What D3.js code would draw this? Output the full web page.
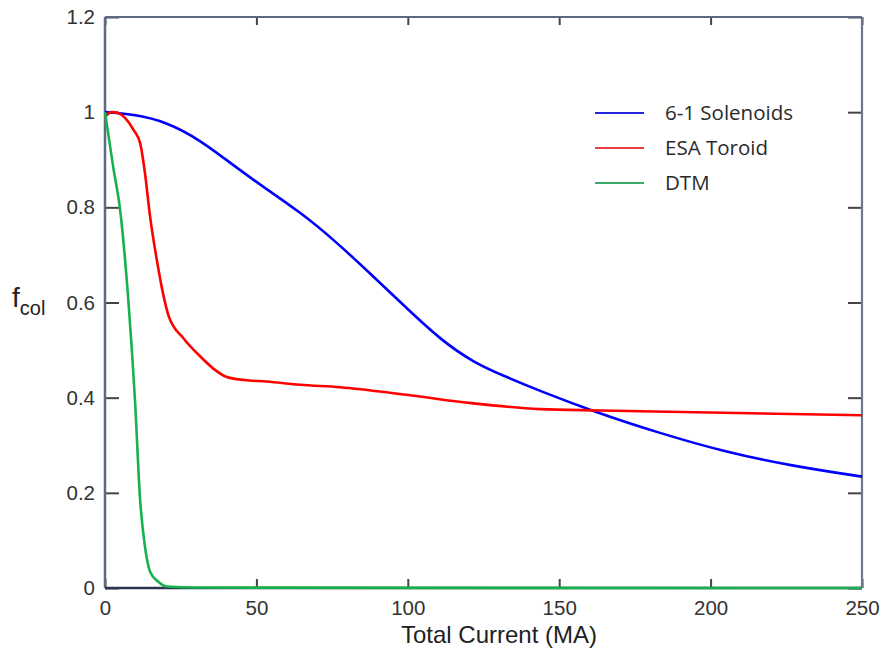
<!DOCTYPE html>
<html>
<head>
<meta charset="utf-8">
<script src="https://cdn.jsdelivr.net/npm/d3@7"></script>
<style>
  html, body { margin: 0; padding: 0; background: #fff; }
  svg { display: block; }
  .tick text { font-family: "Liberation Sans", Arial, sans-serif; font-size: 20.5px; fill: #333; }
</style>
</head>
<body>
<svg id="chart" width="888" height="664"></svg>
<script>
// values
const solenoidX = [0, 10, 20, 31.4, 42.4, 53.4, 64.4, 75.4, 88.6, 99.6, 110.6, 121.6, 132.7, 143.7, 161.3, 183.3, 205.3, 227.3, 250];
const solenoidY = [1.0, 0.995, 0.98, 0.942, 0.888, 0.838, 0.79, 0.733, 0.655, 0.588, 0.523, 0.474, 0.443, 0.414, 0.371, 0.325, 0.285, 0.256, 0.234];

const toroidX = [0, 2.2, 4.3, 9.4, 11.6, 13.2, 14.9, 17.1, 19.3, 21, 25.9, 31.4, 36, 40, 46, 53.4, 64.4, 77.6, 99.6, 121.6, 143.7, 163.5, 250];
const toroidY = [0.99, 1.0, 0.998, 0.963, 0.935, 0.872, 0.78, 0.69, 0.615, 0.572, 0.525, 0.487, 0.46, 0.444, 0.437, 0.434, 0.427, 0.422, 0.406, 0.388, 0.376, 0.373, 0.363];

const dtmX = [0, 2.7, 5, 7.7, 9.9, 11.6, 13.2, 14.9, 17.6, 20.4, 30, 250];
const dtmY = [1.0, 0.885, 0.794, 0.605, 0.395, 0.185, 0.087, 0.034, 0.013, 0.003, 0.001, 0];

const seriesNames = ["6-1 Solenoids", "ESA Toroid", "DTM"];
const lineColors = ["#0000ff", "#ff0000", "#17b24e"];
const legendColors = ["#2525e0", "#e84040", "#3aaa68"];

const xTicks = [0, 50, 100, 150, 200, 250];
const yTicks = [0, 0.2, 0.4, 0.6, 0.8, 1, 1.2];

const svg = d3.select("#chart");
const margin = { top: 17, right: 26, bottom: 76, left: 105 };
const W = 888 - margin.left - margin.right;
const H = 664 - margin.top - margin.bottom;

const g = svg.append("g").attr("transform", `translate(${margin.left},${margin.top})`);

const x = d3.scaleLinear().domain([0, 250]).range([0, W]);
const y = d3.scaleLinear().domain([0, 1.2]).range([H, 0]);

const fmt = d => String(+d.toFixed(1));

/* ---------- ticks ---------- */
function styleTicks(sel) {
  sel.select(".domain").remove();
  sel.selectAll(".tick line").attr("stroke", "#444").attr("stroke-width", 2);
}

g.append("g")
  .call(d3.axisLeft(y).tickValues(yTicks).tickFormat(fmt).tickSize(-14).tickPadding(10))
  .call(styleTicks);

g.append("g")
  .attr("transform", `translate(${W},0)`)
  .call(d3.axisRight(y).tickValues(yTicks).tickFormat("").tickSize(-14))
  .call(styleTicks);

g.append("g")
  .attr("transform", `translate(0,${H})`)
  .call(d3.axisBottom(x).tickValues(xTicks).tickFormat(fmt).tickSize(-9).tickPadding(12))
  .call(styleTicks);

g.append("g")
  .call(d3.axisTop(x).tickValues(xTicks).tickFormat("").tickSize(-8))
  .call(styleTicks);

/* ---------- frame ---------- */
g.append("line").attr("x1", 0).attr("x2", W).attr("y1", 0).attr("y2", 0)
  .attr("stroke", "#5d6985").attr("stroke-width", 2.2);
g.append("line").attr("x1", 0).attr("x2", 0).attr("y1", 0).attr("y2", H)
  .attr("stroke", "#5d6985").attr("stroke-width", 2.5);
g.append("line").attr("x1", W).attr("x2", W).attr("y1", 0).attr("y2", H)
  .attr("stroke", "#6d7890").attr("stroke-width", 2.2);
g.append("line").attr("x1", 0).attr("x2", W).attr("y1", H).attr("y2", H)
  .attr("stroke", "#2c3450").attr("stroke-width", 2.5);

/* ---------- lines ---------- */
const smoothLine = d3.line()
  .x(d => x(d[0]))
  .y(d => y(d[1]))
  .curve(d3.curveBasis);

const kneeLine = d3.line()
  .x(d => x(d[0]))
  .y(d => y(d[1]))
  .curve(d3.curveMonotoneX);

const series = [
  { pts: d3.zip(solenoidX, solenoidY), gen: smoothLine },
  { pts: d3.zip(toroidX, toroidY), gen: kneeLine },
  { pts: d3.zip(dtmX, dtmY), gen: kneeLine }
];

series.forEach((s, i) => {
  g.append("path")
    .datum(s.pts)
    .attr("fill", "none")
    .attr("stroke", lineColors[i])
    .attr("stroke-width", 2.6)
    .attr("stroke-linejoin", "round")
    .attr("d", s.gen);
});

/* ---------- legend ---------- */
const legend = svg.append("g").attr("transform", "translate(595,113)");
seriesNames.forEach((name, i) => {
  const row = legend.append("g").attr("transform", `translate(0,${i * 35})`);
  row.append("line").attr("x1", 0).attr("x2", 49).attr("y1", 0).attr("y2", 0)
    .attr("stroke", legendColors[i]).attr("stroke-width", 2);
  row.append("text")
    .attr("x", 70).attr("y", 0).attr("dy", "0.35em")
    .attr("font-family", "'Open Sans', sans-serif")
    .attr("font-size", 20.5)
    .attr("fill", "#2a2a2a")
    .text(name);
});

/* ---------- axis titles ---------- */
svg.append("text")
  .attr("x", 499).attr("y", 643)
  .attr("text-anchor", "middle")
  .attr("font-family", "'Liberation Sans', Arial, sans-serif")
  .attr("font-size", 24)
  .attr("fill", "#222")
  .text("Total Current (MA)");

const yTitle = svg.append("text")
  .attr("x", 12).attr("y", 307)
  .attr("font-family", "'Liberation Sans', Arial, sans-serif")
  .attr("fill", "#222");
yTitle.append("tspan").attr("font-size", 28).text("f");
yTitle.append("tspan").attr("font-size", 20).attr("dy", 8).text("col");
</script>
</body>
</html>
